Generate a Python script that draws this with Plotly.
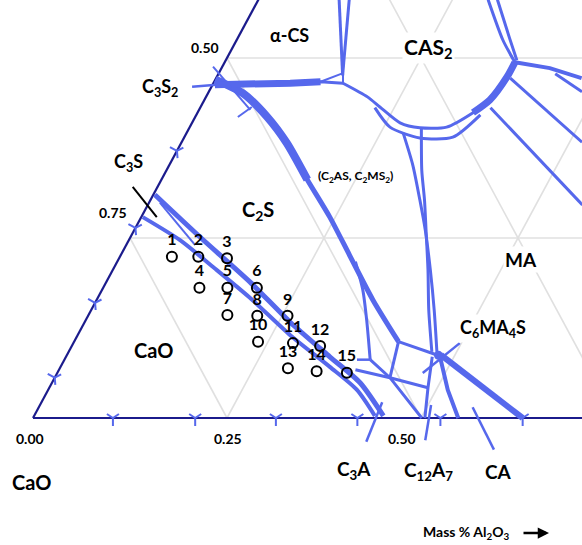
import plotly.graph_objects as go

# ---------------- data (mass %, Al2O3 and SiO2; CaO = 100 - Al2O3 - SiO2) ----------------
sample_ids = [str(i) for i in range(1, 16)]
sample_al2o3 = [6.7, 10.1, 13.9, 12.4, 16.0, 19.8, 17.9, 21.8, 25.7, 23.7, 28.3, 32.0, 29.4, 33.3, 37.3]
sample_sio2 = [22.4, 22.4, 22.2, 18.1, 18.1, 18.1, 14.3, 14.2, 14.2, 10.6, 10.4, 10.0, 6.9, 6.5, 6.3]

grid_levels = [25, 50, 75]
bottom_tick_al2o3 = [10.3, 20.9, 31.3, 41.8, 52.5, 63.1]
left_tick_sio2 = [5.6, 16.0, 26.4, 37.1]

# phase-field boundary curves
c2s_c2as_al = [0.0, 4.5, 9.3, 13.6, 18.8, 24.3, 29.5, 35.6, 41.8]
c2s_c2as_si = [47.0, 45.1, 41.8, 38.2, 33.1, 27.9, 22.6, 16.4, 10.6]
c2s_branch_al = [30.7, 33.6, 36.2, 39.4]
c2s_branch_si = [21.7, 17.8, 13.6, 8.1]
short_h_al = [37.7, 39.4]
short_h_si = [8.1, 8.1]
c3a_c12a7_al = [39.4, 43.2, 50.1]
c3a_c12a7_si = [8.1, 5.6, 0.0]
j2_j6_al = [41.8, 47.7]
j2_j6_si = [10.6, 8.75]
j2_j3_al = [41.8, 43.2]
j2_j3_si = [10.6, 5.6]
low_cross_al = [38.2, 43.2, 48.8]
low_cross_si = [6.7, 5.6, 4.2]
c6_down1_al = [47.2, 48.8, 50.5]
c6_down1_si = [8.5, 4.2, 0.0]
c6_down2_al = [48.2, 51.5, 54.8]
c6_down2_si = [8.5, 3.9, 0.0]
c6_ca_al = [48.2, 55.3, 63.1]
c6_ca_si = [8.75, 4.6, 0.0]
ma_left1_al = [27.9, 31.4, 34.7, 37.5, 40.9, 44.2, 47.7]
ma_left1_si = [39.6, 35.1, 30.3, 26.1, 20.6, 15.0, 8.75]
ma_left2_al = [29.9, 32.9, 35.3, 37.6, 40.6, 43.5, 46.8]
ma_left2_si = [40.3, 34.4, 30.3, 26.1, 20.6, 15.0, 9.2]
cas2_outer_al = [16.7, 20.8, 23.1, 26.8, 29.7, 33.1, 35.5, 36.8, 37.4, 37.4]
cas2_outer_si = [46.5, 44.6, 43.2, 41.0, 40.3, 40.4, 42.4, 44.2, 47.4, 49.4]
cas2_inner_al = [22.5, 25.8, 30.4, 34.6, 36.6]
cas2_inner_si = [43.1, 40.4, 38.9, 39.0, 42.1]
c3s2_band_al = [0.3, 3.9, 9.9, 13.7, 16.7]
c3s2_band_si = [46.3, 46.3, 46.5, 46.7, 46.5]
small_tri_al = [13.7, 16.0, 16.7]
small_tri_si = [46.7, 47.9, 46.5]
cs_left1_al = [10.4, 16.1]
cs_left1_si = [58.1, 47.6]
cs_left2_al = [11.7, 16.1]
cs_left2_si = [58.1, 47.6]
top_right1_al = [29.6, 34.3, 37.4]
top_right1_si = [58.1, 52.5, 49.4]
top_right2_al = [30.8, 35.0, 37.5]
top_right2_si = [58.1, 52.8, 49.7]
right_a_al = [37.4, 42.3, 47.1]
right_a_si = [49.4, 48.6, 47.2]
right_b_al = [43.4, 48.1]
right_b_si = [47.8, 45.3]
diag1_al = [37.9, 51.6]
diag1_si = [47.2, 38.3]
diag2_al = [37.4, 56.0]
diag2_si = [43.1, 29.6]
c3s_upper_al = [0.2, 9.0, 18.5, 26.5, 34.0, 39.7, 45.0]
c3s_upper_si = [31.0, 25.1, 18.9, 13.3, 8.5, 4.9, 0.3]
c3s_lower_al = [0.2, 6.6, 13.0, 19.6, 27.4, 34.7, 39.8, 43.9]
c3s_lower_si = [27.9, 24.7, 20.8, 16.7, 11.5, 7.1, 3.9, 0.3]
sliver_al = [1.4, 8.9]
sliver_si = [29.9, 24.0]
c3s2_tie_al = [-1.2, 6.6]
c3s2_tie_si = [48.8, 42.8]
c3s2_tie_tick_al = [5.5, 6.6]
c3s2_tie_tick_si = [41.8, 43.2]

# compound marker segments
c3s2_mark_al = [-2.5, 0.5]
c3s2_mark_si = [46.0, 46.3]
c3s_mark_al = [-3.2, 2.0]
c3s_mark_si = [32.1, 27.9]
c3a_mark_al = [43.9, 44.6]
c3a_mark_si = [2.2, -3.3]
c12a7_mark_al = [50.4, 52.1]
c12a7_mark_si = [1.8, -3.1]
ca_mark_al = [55.9, 61.6]
ca_mark_si = [1.5, -4.4]
c6ma4s_mark_al = [47.1, 49.8]
c6ma4s_mark_si = [6.25, 10.4]
c6ma4s_point_al = [47.9]
c6ma4s_point_si = [8.7]

# ---------------- styling ----------------
BLUE = "#5668ec"
NAVY = "#1b1b8c"
GRID = "#e0e0e0"
FONT = "Lato, 'Open Sans', sans-serif"
W, H = 582, 545


def to_xy(al, si):
    xs, ys = [], []
    for a, s in zip(al, si):
        if a is None:
            xs.append(None)
            ys.append(None)
        else:
            xs.append(a + s / 2.0)
            ys.append(s)
    return xs, ys


fig = go.Figure()


def add_line(al, si, color=BLUE, width=3, spline=False):
    x, y = to_xy(al, si)
    fig.add_trace(go.Scatter(
        x=x, y=y, mode="lines", hoverinfo="skip",
        line=dict(color=color, width=width,
                  shape="spline" if spline else "linear",
                  smoothing=0.7 if spline else None),
    ))


# ternary grid
g_al, g_si = [], []
for L in grid_levels:
    g_al += [0, 100 - L, None, L, L, None, 100 - L, 0, None]
    g_si += [L, L, None, 0, 100 - L, None, 0, 100 - L, None]
add_line(g_al, g_si, color=GRID, width=1.6)

# triangle edges
add_line([0, 100], [0, 0], color=NAVY, width=2.2)
add_line([0, 0], [0, 100], color=NAVY, width=2.2)

# boundaries
curves = [
    (c3s_lower_al, c3s_lower_si, 4, True),
    (c3s_upper_al, c3s_upper_si, 5, True),
    (sliver_al, sliver_si, 2, False),
    (c2s_c2as_al, c2s_c2as_si, 5, True),
    (c2s_c2as_al[:5], c2s_c2as_si[:5], 8, True),
    (c2s_branch_al, c2s_branch_si, 3, True),
    (short_h_al, short_h_si, 2.5, False),
    (c3a_c12a7_al, c3a_c12a7_si, 3, False),
    (j2_j6_al, j2_j6_si, 3, False),
    (j2_j3_al, j2_j3_si, 3, False),
    (low_cross_al, low_cross_si, 3, False),
    (c6_down1_al, c6_down1_si, 3, False),
    (c6_down2_al, c6_down2_si, 4, False),
    (c6_ca_al, c6_ca_si, 6, False),
    (ma_left1_al, ma_left1_si, 3, True),
    (ma_left2_al, ma_left2_si, 3, True),
    (cas2_outer_al, cas2_outer_si, 3, True),
    (cas2_outer_al[6:], cas2_outer_si[6:], 7, True),
    (cas2_inner_al, cas2_inner_si, 3, True),
    (c3s2_band_al, c3s2_band_si, 3, False),
    (c3s2_band_al[:4], c3s2_band_si[:4], 7, False),
    (small_tri_al, small_tri_si, 2, False),
    (cs_left1_al, cs_left1_si, 3, False),
    (cs_left2_al, cs_left2_si, 3, False),
    (top_right1_al, top_right1_si, 3, True),
    (top_right2_al, top_right2_si, 3, True),
    (right_a_al, right_a_si, 4, False),
    (right_b_al, right_b_si, 3, False),
    (diag1_al, diag1_si, 3, False),
    (diag2_al, diag2_si, 3, False),
    (c3s2_tie_al, c3s2_tie_si, 2, False),
    (c3s2_tie_tick_al, c3s2_tie_tick_si, 2, False),
    (c3s2_mark_al, c3s2_mark_si, 2.5, False),
    (c3a_mark_al, c3a_mark_si, 2.5, False),
    (c12a7_mark_al, c12a7_mark_si, 2.5, False),
    (ca_mark_al, ca_mark_si, 2.5, False),
    (c6ma4s_mark_al, c6ma4s_mark_si, 2.5, False),
]
for al, si, w, sp in curves:
    add_line(al, si, width=w, spline=sp)

add_line(c3s_mark_al, c3s_mark_si, color="black", width=2)

# invariant point blob
x, y = to_xy(c6ma4s_point_al, c6ma4s_point_si)
fig.add_trace(go.Scatter(x=x, y=y, mode="markers", hoverinfo="skip",
                         marker=dict(color=BLUE, size=9)))

# axis tick marks (Y shaped)
x, y = to_xy(bottom_tick_al2o3, [0] * len(bottom_tick_al2o3))
fig.add_trace(go.Scatter(x=x, y=y, mode="markers", hoverinfo="skip",
                         marker=dict(symbol="y-down", size=10,
                                     line=dict(color=BLUE, width=2))))
x, y = to_xy([0] * len(left_tick_sio2), left_tick_sio2)
fig.add_trace(go.Scatter(x=x, y=y, mode="markers", hoverinfo="skip",
                         marker=dict(symbol="y-down", size=10, angle=119,
                                     line=dict(color=BLUE, width=2))))

# samples
x, y = to_xy(sample_al2o3, sample_sio2)
fig.add_trace(go.Scatter(
    x=x, y=y, mode="markers+text", text=["<b>" + t + "</b>" for t in sample_ids],
    textposition="top center",
    textfont=dict(family=FONT, size=16, color="black"),
    marker=dict(symbol="circle-open", size=10, color="black", line=dict(width=2)),
    hoverinfo="skip",
))


def P(px, py):
    return dict(x=px / W, y=1 - py / H, xref="paper", yref="paper",
                xanchor="center", yanchor="middle", showarrow=False)


labels = [
    ("0.50", 205, 47, 14, False),
    ("α-CS", 289, 35, 18, True),
    ("CAS<sub>2</sub>", 428, 48, 21, True),
    ("C<sub>3</sub>S<sub>2</sub>", 160, 87, 18, False),
    ("C<sub>3</sub>S", 128, 162, 18, False),
    ("0.75", 113, 213, 14, False),
    ("C<sub>2</sub>S", 258, 210, 20, True),
    ("(C<sub>2</sub>AS, C<sub>2</sub>MS<sub>2</sub>)", 355, 177, 12, False),
    ("MA", 521, 259, 19, True),
    ("C<sub>6</sub>MA<sub>4</sub>S", 493, 328, 18, True),
    ("CaO", 153, 350, 20, True),
    ("0.00", 30, 438, 14, False),
    ("0.25", 228, 438, 14, False),
    ("0.50", 402, 438, 14, False),
    ("CaO", 31, 482, 20, False),
    ("C<sub>3</sub>A", 354, 470, 19, False),
    ("C<sub>12</sub>A<sub>7</sub>", 428, 471, 19, False),
    ("CA", 498, 471, 19, False),
    ("Mass % Al<sub>2</sub>O<sub>3</sub>", 466, 532, 14, False),
]
annotations = []
for txt, px, py, size, bg in labels:
    a = P(px, py)
    a.update(text="<b>" + txt + "</b>", font=dict(family=FONT, size=size, color="black"))
    if bg:
        a.update(bgcolor="white")
    annotations.append(a)

# arrow after the axis title
arrow = dict(x=549 / W, y=1 - 533 / H, xref="paper", yref="paper",
             ax=-27, ay=0, text="", showarrow=True, arrowhead=2,
             arrowsize=0.9, arrowwidth=2.5, arrowcolor="black")
annotations.append(arrow)

fig.update_layout(
    width=W, height=H, margin=dict(l=0, r=0, t=0, b=0),
    paper_bgcolor="white", plot_bgcolor="white", showlegend=False,
    xaxis=dict(range=[-33 / 7.76, (W - 33) / 7.76], visible=False, fixedrange=True),
    yaxis=dict(range=[(418 - H) / 7.2, 418 / 7.2], visible=False, fixedrange=True),
    annotations=annotations,
)

fig.write_html("out.html", config={"displayModeBar": False},
               post_script="document.body.style.margin='0px';")
